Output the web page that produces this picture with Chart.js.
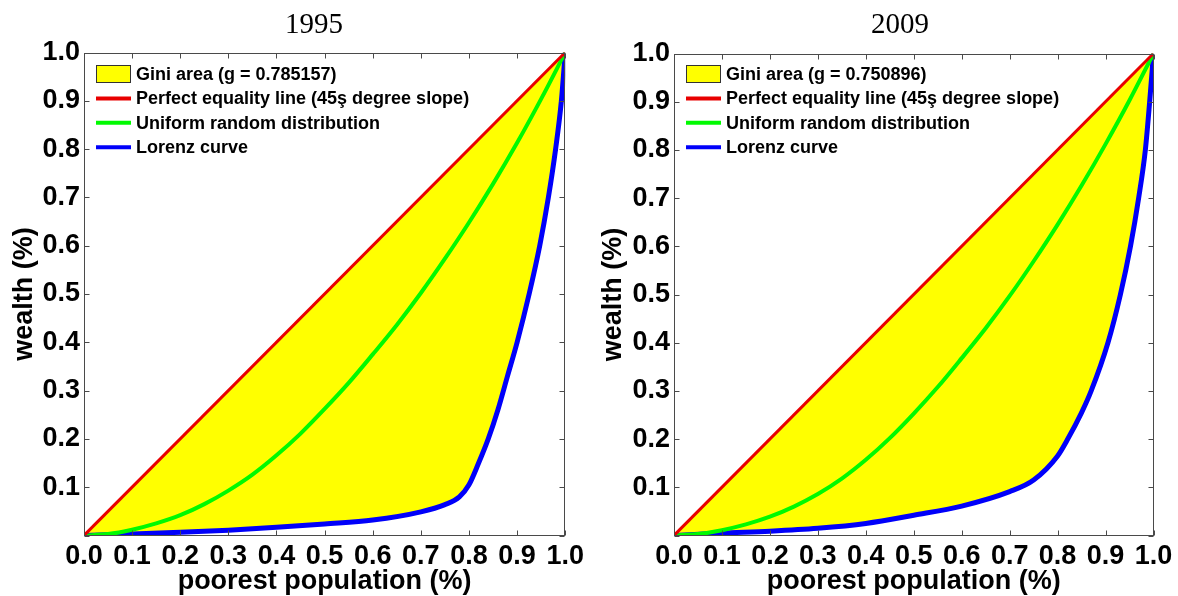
<!DOCTYPE html>
<html>
<head>
<meta charset="utf-8">
<script src="https://cdn.jsdelivr.net/npm/chart.js@4.4.0/dist/chart.umd.min.js"></script>
<style>
  html, body { margin: 0; padding: 0; background: #fff; }
  #wrap { position: relative; width: 1178px; height: 596px; }
  canvas { position: absolute; top: 0; }
</style>
</head>
<body>
<div id="wrap">
  <canvas id="c1995" width="589" height="596" style="left:0"></canvas>
  <canvas id="c2009" width="589" height="596" style="left:589px"></canvas>
</div>
<script>
// data
const titles = ['1995', '2009'];
const giniValues = ['0.785157', '0.750896'];
const legendLabels = ['Perfect equality line (45ş degree slope)', 'Uniform random distribution', 'Lorenz curve'];
const xTickLabels = ['0.0', '0.1', '0.2', '0.3', '0.4', '0.5', '0.6', '0.7', '0.8', '0.9', '1.0'];
const yTickLabels = ['', '0.1', '0.2', '0.3', '0.4', '0.5', '0.6', '0.7', '0.8', '0.9', '1.0'];

const equalityX = [0, 1];
const equalityY = [0, 1];

const uniformX = [0, 0.05, 0.1, 0.15, 0.2, 0.25, 0.3, 0.35, 0.4, 0.45, 0.5, 0.55, 0.6, 0.65, 0.7, 0.75, 0.8, 0.85, 0.9, 0.95, 1];
const uniformY1995 = [0, 0.003, 0.012, 0.025, 0.042, 0.065, 0.093, 0.126, 0.166, 0.211, 0.262, 0.316, 0.375, 0.436, 0.502, 0.573, 0.648, 0.728, 0.813, 0.904, 1];
const uniformY2009 = [0, 0.003, 0.011, 0.023, 0.039, 0.06, 0.086, 0.118, 0.157, 0.202, 0.253, 0.308, 0.368, 0.43, 0.497, 0.569, 0.645, 0.726, 0.812, 0.903, 1];

const lorenzX1995 = [0, 0.1, 0.2, 0.3, 0.4, 0.5, 0.6, 0.7, 0.75, 0.78, 0.8, 0.82, 0.84, 0.86, 0.88, 0.9, 0.925, 0.947, 0.965, 0.98, 0.992, 1];
const lorenzY1995 = [0, 0.003, 0.0066, 0.011, 0.017, 0.024, 0.032, 0.049, 0.064, 0.08, 0.105, 0.15, 0.2, 0.26, 0.33, 0.4, 0.5, 0.6, 0.7, 0.8, 0.9, 1];

const lorenzX2009 = [0, 0.1, 0.2, 0.3, 0.4, 0.5, 0.6, 0.7, 0.75, 0.8, 0.82, 0.85, 0.87, 0.905, 0.931, 0.952, 0.969, 0.983, 0.992, 1];
const lorenzY2009 = [0, 0.005, 0.009, 0.015, 0.025, 0.042, 0.061, 0.091, 0.115, 0.165, 0.198, 0.255, 0.3, 0.4, 0.5, 0.6, 0.7, 0.8, 0.9, 1];

const RED = 'rgb(232,0,0)';
const GREEN = 'rgb(0,250,0)';
const BLUE = 'rgb(0,0,250)';
const YELLOW = 'rgb(255,255,0)';
const SANS = '"Liberation Sans", Arial, sans-serif';

function toPoints(xs, ys) {
    return xs.map((x, i) => ({ x: x, y: ys[i] }));
}

function makePanel(canvasId, p) {
    // box, inward ticks, title and legend
    const panelPlugin = {
        id: 'panel' + canvasId,
        afterDraw(chart) {
            const ctx = chart.ctx;
            const a = chart.chartArea;
            const sx = chart.scales.x, sy = chart.scales.y;
            const L = Math.round(a.left) + 0.5, R = Math.round(a.right) - 0.5;
            const T = Math.round(a.top) + 0.5, B = Math.round(a.bottom) - 0.5;
            ctx.save();
            ctx.strokeStyle = '#4a4a4a';
            ctx.lineWidth = 1;
            ctx.strokeRect(L, T, R - L, B - T);
            ctx.beginPath();
            sx.ticks.forEach(t => {
                const px = Math.round(sx.getPixelForValue(t.value)) + 0.5;
                ctx.moveTo(px, B); ctx.lineTo(px, B - 5);
                ctx.moveTo(px, T); ctx.lineTo(px, T + 5);
            });
            sy.ticks.forEach(t => {
                const py = Math.round(sy.getPixelForValue(t.value)) + 0.5;
                ctx.moveTo(L, py); ctx.lineTo(L + 5, py);
                ctx.moveTo(R, py); ctx.lineTo(R - 5, py);
            });
            ctx.stroke();

            // title
            ctx.fillStyle = '#000';
            ctx.font = '29px "Liberation Serif", "Times New Roman", serif';
            ctx.textAlign = 'center';
            ctx.textBaseline = 'alphabetic';
            ctx.fillText(p.title, p.titleX, 33);

            // legend
            ctx.font = 'bold 18px ' + SANS;
            ctx.textAlign = 'left';
            ctx.textBaseline = 'middle';
            const x0 = a.left + 12;
            const rows = ['Gini area (g = ' + p.gini + ')'].concat(legendLabels);
            const colors = [YELLOW, RED, GREEN, BLUE];
            rows.forEach((txt, i) => {
                const ry = 74 + i * 24.4;
                if (i === 0) {
                    ctx.fillStyle = YELLOW;
                    ctx.fillRect(x0, ry - 9, 35, 18);
                    ctx.strokeStyle = '#333';
                    ctx.lineWidth = 1;
                    ctx.strokeRect(x0 + 0.5, ry - 8.5, 34, 17);
                } else {
                    ctx.strokeStyle = colors[i];
                    ctx.lineWidth = 4;
                    ctx.beginPath();
                    ctx.moveTo(x0, ry);
                    ctx.lineTo(x0 + 35, ry);
                    ctx.stroke();
                }
                ctx.fillStyle = '#000';
                ctx.fillText(txt, x0 + 40, ry + 1);
            });
            ctx.restore();
        }
    };

    const ctx = document.getElementById(canvasId).getContext('2d');
    return new Chart(ctx, {
        type: 'line',
        data: {
            datasets: [{
                label: legendLabels[0],
                data: toPoints(equalityX, equalityY),
                borderColor: RED,
                borderWidth: 3,
                pointRadius: 0,
                fill: false
            }, {
                label: legendLabels[1],
                data: toPoints(uniformX, p.uniformY),
                borderColor: GREEN,
                borderWidth: 4,
                pointRadius: 0,
                cubicInterpolationMode: 'monotone',
                fill: false
            }, {
                label: legendLabels[2],
                data: toPoints(p.lorenzX, p.lorenzY),
                borderColor: BLUE,
                borderWidth: 5,
                pointRadius: 0,
                cubicInterpolationMode: 'monotone',
                backgroundColor: YELLOW,
                fill: { target: 0 }
            }]
        },
        options: {
            responsive: false,
            animation: false,
            layout: { padding: { top: p.top, right: p.right, bottom: 0, left: 0 } },
            plugins: {
                legend: { display: false },
                tooltip: { enabled: false },
                title: { display: false }
            },
            scales: {
                x: {
                    type: 'linear',
                    min: 0,
                    max: 1,
                    grid: { display: false, drawTicks: false },
                    border: { display: false },
                    ticks: {
                        stepSize: 0.1,
                        autoSkip: false,
                        maxRotation: 0,
                        padding: 5,
                        color: '#000',
                        font: { family: SANS, size: 27, weight: 'bold' },
                        callback: (v, i) => xTickLabels[i]
                    },
                    title: {
                        display: true,
                        text: 'poorest population (%)',
                        color: '#000',
                        padding: { top: 0, bottom: 0 },
                        font: { family: SANS, size: 27, weight: 'bold', lineHeight: 1.1 }
                    },
                    afterFit: s => { s.height = 60.5; }
                },
                y: {
                    min: 0,
                    max: 1,
                    grid: { display: false, drawTicks: false },
                    border: { display: false },
                    ticks: {
                        stepSize: 0.1,
                        padding: 4,
                        color: '#000',
                        font: { family: SANS, size: 27, weight: 'bold' },
                        callback: (v, i) => yTickLabels[i]
                    },
                    title: {
                        display: true,
                        text: 'wealth (%)',
                        color: '#000',
                        padding: { top: 8, bottom: 0 },
                        font: { family: SANS, size: 27, weight: 'bold' }
                    },
                    afterFit: s => { s.width = p.yWidth; }
                }
            }
        },
        plugins: [panelPlugin]
    });
}

makePanel('c1995', {
    title: titles[0], titleX: 314, top: 52.5, right: 21, yWidth: 84,
    gini: giniValues[0], uniformY: uniformY1995, lorenzX: lorenzX1995, lorenzY: lorenzY1995
});
makePanel('c2009', {
    title: titles[1], titleX: 311, top: 53.5, right: 24.5, yWidth: 85,
    gini: giniValues[1], uniformY: uniformY2009, lorenzX: lorenzX2009, lorenzY: lorenzY2009
});
</script>
</body>
</html>
